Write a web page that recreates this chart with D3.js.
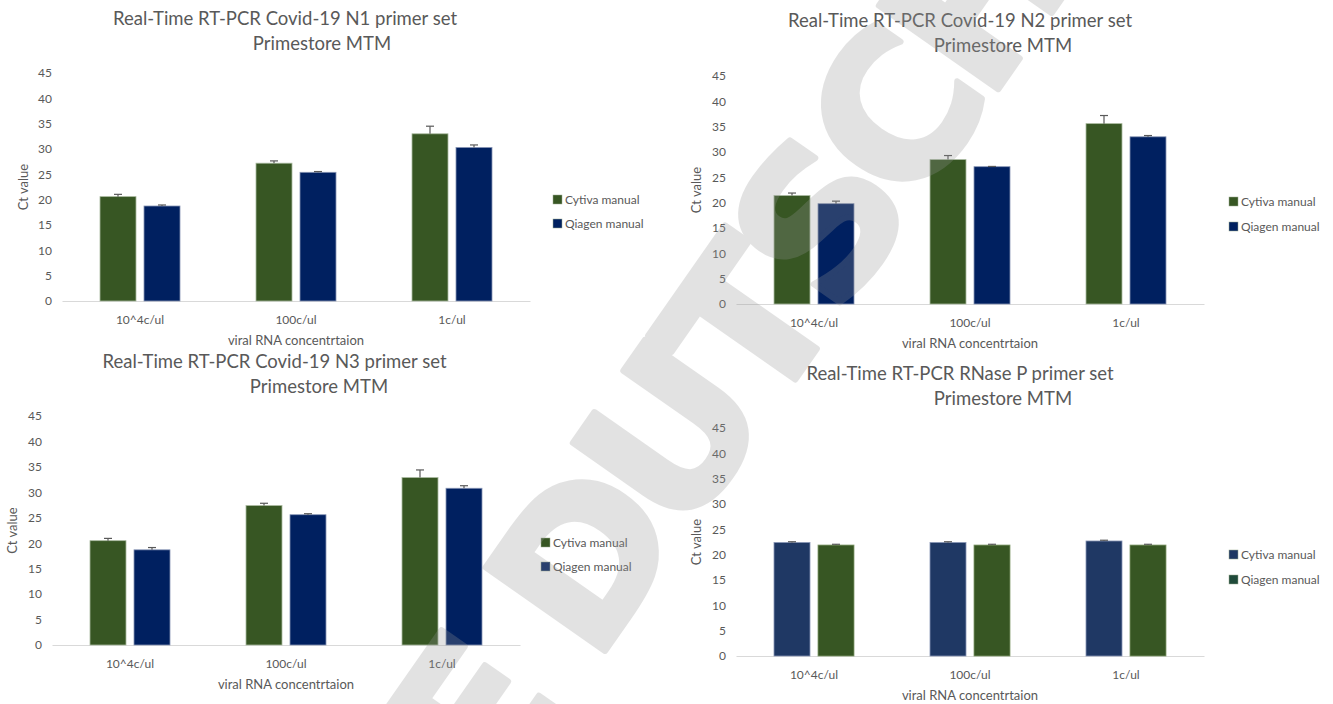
<!DOCTYPE html>
<html>
<head>
<meta charset="utf-8">
<script src="https://cdn.jsdelivr.net/npm/d3@7"></script>
<style>
  html, body { margin: 0; padding: 0; background: #fff; }
  svg { display: block; }
  text { font-family: Lato, "Open Sans", sans-serif; fill: #595959; }
</style>
</head>
<body>
<svg id="chart" width="1333" height="704"></svg>
<script>
// ---------- data ----------
const categories = ["10^4c/ul", "100c/ul", "1c/ul"];
const seriesNames = ["Cytiva manual", "Qiagen manual"];
const yTicks = [0, 5, 10, 15, 20, 25, 30, 35, 40, 45];

const n1Cytiva = [20.6, 27.2, 33.0];
const n1CytivaErr = [0.45, 0.45, 1.5];
const n1Qiagen = [18.75, 25.4, 30.3];
const n1QiagenErr = [0.2, 0.15, 0.5];

const n2Cytiva = [21.4, 28.5, 35.6];
const n2CytivaErr = [0.5, 0.8, 1.6];
const n2Qiagen = [19.8, 27.1, 33.0];
const n2QiagenErr = [0.5, 0.05, 0.25];

const n3Cytiva = [20.5, 27.4, 32.9];
const n3CytivaErr = [0.45, 0.45, 1.5];
const n3Qiagen = [18.7, 25.6, 30.8];
const n3QiagenErr = [0.45, 0.2, 0.5];

const rnpCytiva = [22.4, 22.4, 22.7];
const rnpCytivaErr = [0.15, 0.15, 0.15];
const rnpQiagen = [21.9, 21.9, 21.9];
const rnpQiagenErr = [0.15, 0.15, 0.15];

const titles = [
  ["Real-Time RT-PCR Covid-19 N1 primer set", "Primestore MTM"],
  ["Real-Time RT-PCR Covid-19 N2 primer set", "Primestore MTM"],
  ["Real-Time RT-PCR Covid-19 N3 primer set", "Primestore MTM"],
  ["Real-Time RT-PCR RNase P primer set", "Primestore MTM"]
];
const xTitle = "viral RNA concentrtaion";
const yTitle = "Ct value";
const watermarkText = "IE DUTSCHE";

// ---------- layout ----------
const GREEN = "#375623", NAVY = "#002060", NAVY2 = "#1F3864";
const panels = [
  { vals: [n1Cytiva, n1Qiagen], errs: [n1CytivaErr, n1QiagenErr], title: titles[0],
    x0: 62, x1: 530, y0: 301, y45: 73, t1: [285, 25], t2: [322, 50],
    colors: [GREEN, NAVY], legColors: [GREEN, NAVY], legX: 553, legY: [200, 224], yTitleX: 28 },
  { vals: [n2Cytiva, n2Qiagen], errs: [n2CytivaErr, n2QiagenErr], title: titles[1],
    x0: 736, x1: 1204, y0: 304, y45: 76, t1: [960, 27], t2: [1003, 52],
    colors: [GREEN, NAVY], legColors: [GREEN, NAVY], legX: 1229, legY: [202, 227], yTitleX: 701 },
  { vals: [n3Cytiva, n3Qiagen], errs: [n3CytivaErr, n3QiagenErr], title: titles[2],
    x0: 52, x1: 520, y0: 645, y45: 416, t1: [274.5, 368], t2: [319, 393],
    colors: [GREEN, NAVY], legColors: [GREEN, NAVY], legX: 541, legY: [543, 567], yTitleX: 17 },
  { vals: [rnpCytiva, rnpQiagen], errs: [rnpCytivaErr, rnpQiagenErr], title: titles[3],
    x0: 736, x1: 1204, y0: 656, y45: 428, t1: [960, 380], t2: [1003, 405],
    colors: [NAVY2, GREEN], legColors: [NAVY2, "#1f4a3a"], legX: 1229, legY: [555, 580], yTitleX: 701 }
];

const svg = d3.select("#chart");

panels.forEach(p => {
  const g = svg.append("g");
  const x = d3.scaleBand().domain(categories).range([p.x0, p.x1]).paddingInner(0).paddingOuter(0);
  const y = d3.scaleLinear().domain([0, 45]).range([p.y0, p.y45]);
  const barW = 36, gap = 8;

  // title
  g.append("text").attr("x", p.t1[0]).attr("y", p.t1[1]).attr("text-anchor", "middle")
    .style("font-size", "18.5px").text(p.title[0]);
  g.append("text").attr("x", p.t2[0]).attr("y", p.t2[1]).attr("text-anchor", "middle")
    .style("font-size", "18.5px").text(p.title[1]);

  // y axis (labels only)
  const yAxis = d3.axisLeft(y).tickValues(yTicks).tickSize(0).tickPadding(0);
  const ya = g.append("g").attr("transform", `translate(${p.x0 - 10},0)`).call(yAxis);
  ya.select(".domain").remove();
  ya.selectAll("text").style("font-size", "12px").style("font-family", "Lato, sans-serif").attr("fill", "#595959");

  // x axis
  const xAxis = d3.axisBottom(x).tickSize(0).tickPadding(14);
  const xa = g.append("g").attr("transform", `translate(0,${p.y0})`).call(xAxis);
  xa.select(".domain").attr("stroke", "#d9d9d9").attr("stroke-width", 1.2);
  xa.selectAll("text").style("font-size", "12px").style("font-family", "Lato, sans-serif").attr("fill", "#595959");

  // axis titles
  g.append("text").attr("x", (p.x0 + p.x1) / 2).attr("y", p.y0 + 44).attr("text-anchor", "middle")
    .style("font-size", "13px").text(xTitle);
  g.append("text").attr("transform", `translate(${p.yTitleX},${y(22.5)}) rotate(-90)`)
    .attr("text-anchor", "middle").style("font-size", "13px").text(yTitle);

  // bars
  p.vals.forEach((vals, si) => {
    const offs = si === 0 ? -gap / 2 - barW : gap / 2;
    g.append("g").selectAll("rect").data(vals).join("rect")
      .attr("x", (d, i) => x(categories[i]) + x.bandwidth() / 2 + offs)
      .attr("y", d => y(d))
      .attr("width", barW)
      .attr("height", d => y(0) - y(d))
      .attr("fill", p.colors[si])
      .attr("stroke", si === 0 && p.colors[si] === GREEN ? "#a9b99e" : (p.colors[si] === GREEN ? "#7f9a6a" : "#8795b5"))
      .attr("stroke-width", 0.8);
    // error bars (plus direction)
    const eg = g.append("g").attr("stroke", "#595959").attr("stroke-width", 1.2);
    vals.forEach((d, i) => {
      const cx = x(categories[i]) + x.bandwidth() / 2 + offs + barW / 2;
      const e = p.errs[si][i];
      eg.append("line").attr("x1", cx).attr("x2", cx).attr("y1", y(d)).attr("y2", y(d + e));
      eg.append("line").attr("x1", cx - 4).attr("x2", cx + 4).attr("y1", y(d + e)).attr("y2", y(d + e));
    });
  });

  // legend
  seriesNames.forEach((s, si) => {
    g.append("rect").attr("x", p.legX).attr("y", p.legY[si] - 5).attr("width", 9).attr("height", 9)
      .attr("fill", p.legColors[si]).attr("stroke", "#9aab90").attr("stroke-width", 0.5);
    g.append("text").attr("x", p.legX + 12).attr("y", p.legY[si] + 4)
      .style("font-size", "12px").text(s);
  });
});

// watermark (single composited layer)
svg.append("g").attr("opacity", 0.27)
  .append("text")
  .attr("transform", "translate(745,330) rotate(-55)")
  .attr("text-anchor", "middle")
  .attr("dominant-baseline", "central")
  .style("font-family", "'DejaVu Sans', sans-serif")
  .style("font-weight", "bold")
  .style("font-size", "200px")
  .style("letter-spacing", "-14px")
  .style("fill", "rgb(150,150,150)")
  .style("stroke", "rgb(150,150,150)")
  .style("stroke-width", 6)
  .style("stroke-linejoin", "round")
  .text(watermarkText);
</script>
</body>
</html>
